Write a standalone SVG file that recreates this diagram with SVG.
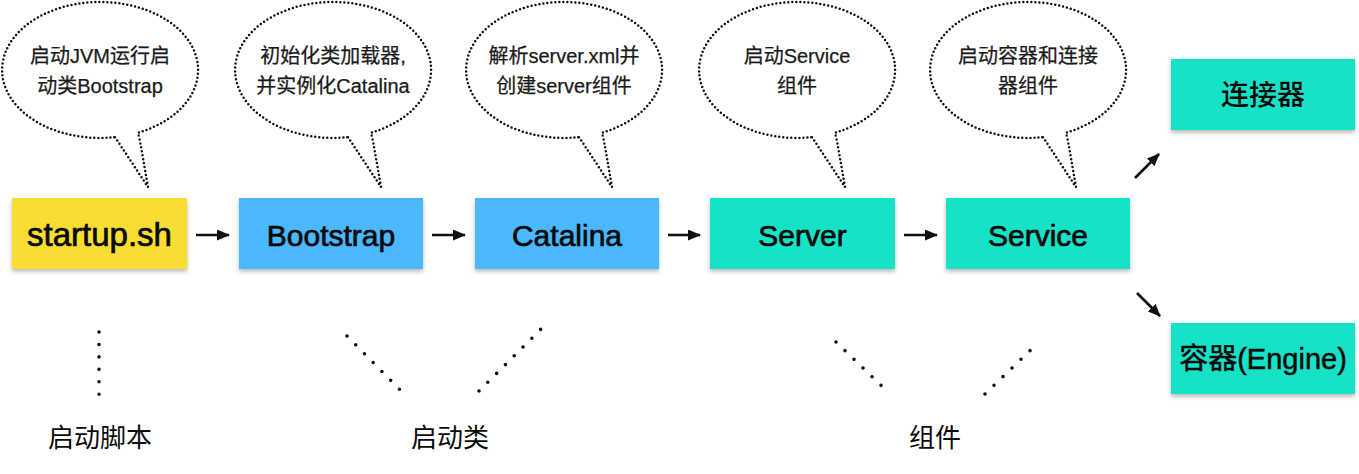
<svg xmlns="http://www.w3.org/2000/svg" width="1359" height="474" viewBox="0 0 1359 474">
<style>
.bub{fill:none;stroke:#111;stroke-width:2.5;stroke-dasharray:0 4;stroke-linecap:round;stroke-linejoin:round}
.bt{font-family:"Liberation Sans","Noto Sans CJK SC",sans-serif;font-size:20px;fill:#1a1a1a;stroke:#1a1a1a;stroke-width:0.25;text-anchor:middle}
.lbl{font-family:"Liberation Sans","Noto Sans CJK SC",sans-serif;font-size:30px;fill:#0a0a0a;stroke:#0a0a0a;stroke-width:0.7;text-anchor:middle}
.cjk{font-family:"Noto Sans CJK SC",sans-serif;fill:#0a0a0a;text-anchor:middle}
.dot{stroke:#111;stroke-width:3.6;stroke-linecap:round;stroke-dasharray:0 12.45;fill:none}
.arr{stroke:#111;stroke-width:2.6;fill:none}
.yel{fill:#F8DE30}
.blu{fill:#4BB7FE}
.tea{fill:#16E2C7}
</style>
<defs>
<filter id="sh" x="-10%" y="-10%" width="120%" height="130%">
<feDropShadow dx="0" dy="2.5" stdDeviation="2" flood-color="#000" flood-opacity="0.28"/>
</filter>
<marker id="ah" markerUnits="userSpaceOnUse" markerWidth="13" markerHeight="11" refX="12" refY="5.5" orient="auto">
<path d="M0,0 L13,5.5 L0,11 Z" fill="#111"/>
</marker>
</defs>
<rect width="1359" height="474" fill="#fff"/>

<g id="bubble1">
<path class="bub" d="M115,137.2 L148,187 L140,141 L138,132.7 A98 68 0 1 0 115,137.2"/>
<text class="bt" x="100" y="63">启动JVM运行启</text>
<text class="bt" x="100" y="93">动类Bootstrap</text>
</g>
<g id="bubble2">
<path class="bub" d="M348,137.2 L381,187 L373,141 L371,132.7 A98 68 0 1 0 348,137.2"/>
<text class="bt" x="333" y="63">初始化类加载器,</text>
<text class="bt" x="333" y="93">并实例化Catalina</text>
</g>
<g id="bubble3">
<path class="bub" d="M579,137.2 L612,187 L604,141 L602,132.7 A98 68 0 1 0 579,137.2"/>
<text class="bt" x="564" y="63">解析server.xml并</text>
<text class="bt" x="564" y="93">创建server组件</text>
</g>
<g id="bubble4">
<path class="bub" d="M812,137.2 L845,187 L837,141 L835,132.7 A98 68 0 1 0 812,137.2"/>
<text class="bt" x="797" y="63">启动Service</text>
<text class="bt" x="797" y="93">组件</text>
</g>
<g id="bubble5">
<path class="bub" d="M1043,137.2 L1076,187 L1068,141 L1066,132.7 A98 68 0 1 0 1043,137.2"/>
<text class="bt" x="1028" y="63">启动容器和连接</text>
<text class="bt" x="1028" y="93">器组件</text>
</g>

<g id="startup">
<rect class="yel" x="12" y="198" width="175" height="71" filter="url(#sh)"/>
<text class="lbl" x="99.5" y="246" style="font-size:33px">startup.sh</text>
</g>
<g id="bootstrap">
<rect class="blu" x="239" y="198" width="184" height="71" filter="url(#sh)"/>
<text class="lbl" x="331" y="246">Bootstrap</text>
</g>
<g id="catalina">
<rect class="blu" x="475" y="198" width="184" height="71" filter="url(#sh)"/>
<text class="lbl" x="567" y="246">Catalina</text>
</g>
<g id="server">
<rect class="tea" x="710" y="198" width="185" height="71" filter="url(#sh)"/>
<text class="lbl" x="802.5" y="246">Server</text>
</g>
<g id="service">
<rect class="tea" x="946" y="198" width="184" height="71" filter="url(#sh)"/>
<text class="lbl" x="1038" y="246">Service</text>
</g>
<g id="connector">
<rect class="tea" x="1171" y="59" width="184" height="71" filter="url(#sh)"/>
<text class="cjk" x="1263" y="105" style="font-size:28px;font-weight:500">连接器</text>
</g>
<g id="engine">
<rect class="tea" x="1171" y="323" width="184" height="71" filter="url(#sh)"/>
<text class="lbl" x="1263" y="369" style="font-size:29px;stroke-width:0.5">容器(Engine)</text>
</g>

<g id="connectors">
<line class="arr" x1="196" y1="235" x2="229" y2="235" marker-end="url(#ah)"/>
<line class="arr" x1="432" y1="235" x2="465" y2="235" marker-end="url(#ah)"/>
<line class="arr" x1="668" y1="235" x2="700" y2="235" marker-end="url(#ah)"/>
<line class="arr" x1="904" y1="235" x2="937" y2="235" marker-end="url(#ah)"/>
<line class="arr" x1="1135" y1="178" x2="1159" y2="154" marker-end="url(#ah)"/>
<line class="arr" x1="1137" y1="293" x2="1160" y2="316" marker-end="url(#ah)"/>
</g>

<g id="group-labels">
<line class="dot" x1="99" y1="332" x2="99" y2="394.3"/>
<line class="dot" x1="347" y1="336" x2="408" y2="398"/>
<line class="dot" x1="479" y1="391" x2="541" y2="329"/>
<line class="dot" style="stroke-dasharray:0 12.5" x1="836" y1="342" x2="890" y2="394"/>
<line class="dot" style="stroke-dasharray:0 12.5" x1="985" y1="394" x2="1039" y2="342"/>
<text class="cjk" x="100" y="447" style="font-size:26px">启动脚本</text>
<text class="cjk" x="450" y="447" style="font-size:26px">启动类</text>
<text class="cjk" x="935" y="447" style="font-size:26px">组件</text>
</g>
</svg>
